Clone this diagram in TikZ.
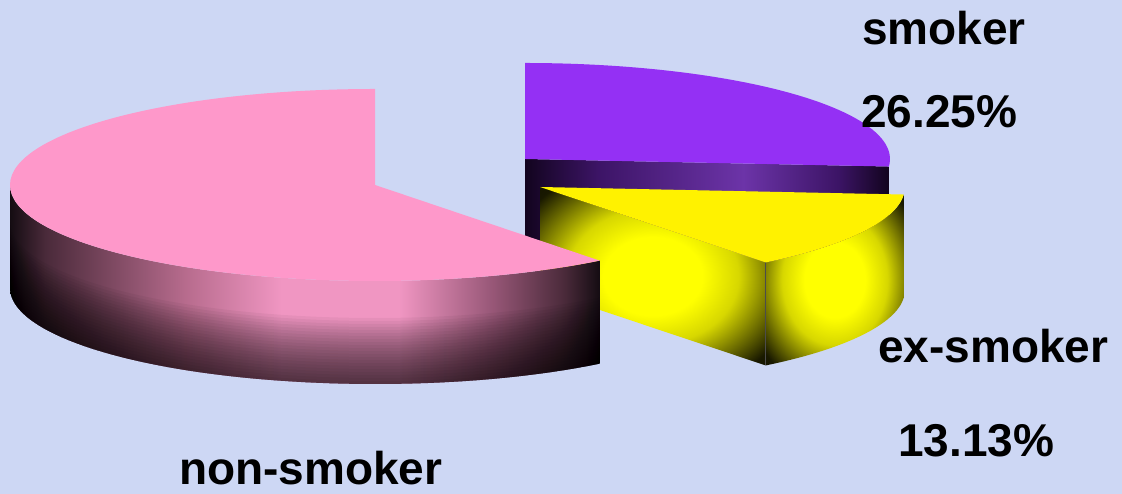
\documentclass[tikz,border=0pt]{standalone}
\usepackage{fontspec}
\setmainfont{Liberation Sans}
\definecolor{bgc}{RGB}{205,215,244}
\definecolor{pinktop}{RGB}{254,152,202}
\definecolor{purptop}{RGB}{148,48,244}
\definecolor{ps0}{RGB}{20,12,18}
\definecolor{ps1}{RGB}{74,42,58}
\definecolor{ps2}{RGB}{184,108,142}
\definecolor{ps3}{RGB}{240,150,194}
\definecolor{ps4}{RGB}{150,86,118}
\definecolor{pd0}{RGB}{18,4,30}
\definecolor{pd1}{RGB}{60,20,102}
\definecolor{pd2}{RGB}{108,52,168}
\definecolor{yd0}{RGB}{25,25,0}
\definecolor{yd1}{RGB}{120,120,0}
\definecolor{yd2}{RGB}{215,215,0}
\pgfdeclarehorizontalshading{pinkside}{100bp}{color(0bp)=(ps0); color(25bp)=(ps0); color(28bp)=(ps1); color(40bp)=(ps2); color(48bp)=(ps3); color(58bp)=(ps3); color(66bp)=(ps4); color(72bp)=(ps1); color(75bp)=(ps0); color(100bp)=(ps0)}
\pgfdeclarehorizontalshading{purpside}{100bp}{color(0bp)=(pd0); color(25bp)=(pd0); color(35bp)=(pd1); color(55bp)=(pd2); color(68bp)=(pd1); color(75bp)=(pd0); color(100bp)=(pd0)}
\pgfdeclareradialshading{yglow}{\pgfpointorigin}{color(0bp)=(yellow); color(11bp)=(yellow); color(19bp)=(yd2); color(26bp)=(yd1); color(33bp)=(yd0); color(50bp)=(black)}
\tikzset{
  lbl/.style={anchor=base west, inner sep=0pt, font=\fontsize{46}{50}\selectfont\bfseries, text=black},
  ell/.style={x radius=365pt, y radius=96pt}
}
\begin{document}
\begin{tikzpicture}[x=1pt,y=1pt]
\fill[bgc] (0,0) rectangle (1122,494);
\useasboundingbox (0,0) rectangle (1122,494);
\def\dep{103}
% ---------- smoker (purple) ----------
\coordinate (qc) at (525,335);
\coordinate (qe) at ([shift={(-4.5:365pt and 96pt)}]qc);
\coordinate (qt) at ([shift={(90:365pt and 96pt)}]qc);
\coordinate (qcb) at ([yshift=-\dep pt]qc);
\coordinate (qeb) at ([yshift=-\dep pt]qe);
\shade[shading=purpside] (qc) -- (qe) -- (qeb) -- (qcb) -- cycle;
\fill[purptop] (qc) -- (qe) arc[start angle=-4.5, end angle=90, ell] -- cycle;
% ---------- ex-smoker (yellow) ----------
\coordinate (yc) at (540,307);
\coordinate (ya) at ([shift={(-51.8:365pt and 96pt)}]yc);
\coordinate (yb) at ([shift={(-4.5:365pt and 96pt)}]yc);
\coordinate (ycb) at ([yshift=-\dep pt]yc);
\coordinate (yab) at ([yshift=-\dep pt]ya);
\shade[shading=yglow] (yc) -- (ya) -- (yab) -- (ycb) -- cycle;
\shade[shading=yglow] (ya) arc[start angle=-51.8, end angle=-4.5, ell] -- ++(0,-\dep) arc[start angle=-4.5, end angle=-51.8, ell] -- cycle;
\draw[black!70, line width=0.6pt] (ya) -- (yab);
\fill[yellow] (yc) -- (ya) arc[start angle=-51.8, end angle=-4.5, ell] -- cycle;
% ---------- non-smoker (pink) ----------
\coordinate (pc) at (375,309);
\coordinate (pl) at ([shift={(180:365pt and 96pt)}]pc);
\coordinate (pt) at ([shift={(90:365pt and 96pt)}]pc);
\shade[shading=pinkside] (pl) arc[start angle=180, end angle=308, ell] -- ++(0,-\dep) arc[start angle=308, end angle=180, ell] -- cycle;
\foreach \k in {3,6,...,66}{
  \fill[black, fill opacity=0.045] ([yshift={(\k-\dep)*1pt}]pl) arc[start angle=180, end angle=308, ell] -- ++(0,-\k) arc[start angle=308, end angle=180, ell] -- cycle;
}
\fill[pinktop] (pc) -- (pt) arc[start angle=90, end angle=308, ell] -- cycle;
% ---------- labels ----------
\node[lbl] (tsm) at (862,449) {smoker};
\node[lbl] (tsp) at (861,366) {26.25\%};
\node[lbl] (tex) at (878,131) {ex-smoker};
\node[lbl] (tep) at (898,37) {13.13\%};
\node[lbl] (tns) at (179,9) {non-smoker};
\end{tikzpicture}
\end{document}
